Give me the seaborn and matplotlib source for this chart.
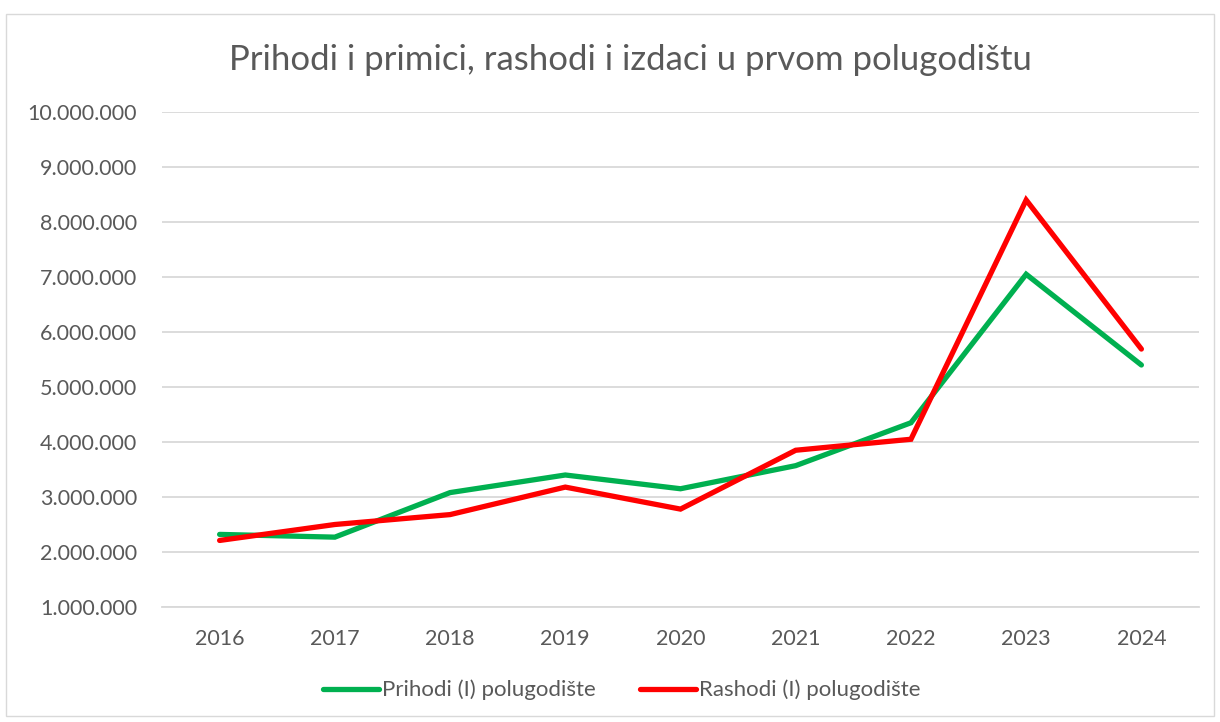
import matplotlib
matplotlib.use("Agg")
import matplotlib.pyplot as plt
import matplotlib.ticker as mticker
import seaborn as sns
import pandas as pd

years = ["2016", "2017", "2018", "2019", "2020", "2021", "2022", "2023", "2024"]
prihodi = [2320000, 2270000, 3080000, 3400000, 3150000, 3570000, 4350000, 7050000, 5400000]
rashodi = [2210000, 2500000, 2680000, 3180000, 2780000, 3850000, 4050000, 8400000, 5690000]
series_names = ["Prihodi (I) polugodište", "Rashodi (I) polugodište"]
title = "Prihodi i primici, rashodi i izdaci u prvom polugodištu"

sns.set_theme(style="white")
plt.rcParams['font.family'] = ['Lato', 'DejaVu Sans']

df = pd.DataFrame({
    "year": years * 2,
    "x": list(range(len(years))) * 2,
    "value": prihodi + rashodi,
    "series": [series_names[0]] * len(years) + [series_names[1]] * len(years),
})

fig = plt.figure(figsize=(12.2, 7.22), dpi=100)
# outer border
fig.patches.append(plt.Rectangle((0.005, 0.008), 0.99, 0.972, transform=fig.transFigure,
                                 fill=False, edgecolor="#d9d9d9", linewidth=1))
ax = fig.add_axes([162/1220, 1 - 607/722, (1199-162)/1220, (607-112)/722])

sns.lineplot(data=df, x="x", y="value", hue="series", palette=["#00b050", "#ff0000"],
             linewidth=3.8, ax=ax, legend=True, solid_capstyle="round", solid_joinstyle="miter")

ax.set_xlim(-0.5, len(years) - 0.5)
ax.set_ylim(1000000, 10000000)
ax.yaxis.set_major_locator(mticker.MultipleLocator(1000000))
ax.yaxis.set_major_formatter(mticker.FuncFormatter(lambda v, p: f"{int(v):,}".replace(",", ".")))
ax.set_xticks(range(len(years)))
ax.set_xticklabels(years)
ax.xaxis.set_minor_locator(mticker.FixedLocator([i - 0.5 for i in range(len(years) + 1)]))
ax.tick_params(axis="x", which="major", length=0, pad=16, labelsize=15.5, labelcolor="#595959")
ax.tick_params(axis="x", which="minor", length=6, width=1, color="#d9d9d9", direction="out")
ax.tick_params(axis="y", length=0, pad=18, labelsize=15.5, labelcolor="#595959")
ax.grid(axis="y", color="#d9d9d9", linewidth=1.3)
ax.set_axisbelow(True)
for s in ["top", "right", "left"]:
    ax.spines[s].set_visible(False)
ax.spines["bottom"].set_color("#d9d9d9")
ax.spines["bottom"].set_linewidth(1.3)
ax.set_xlabel("")
ax.set_ylabel("")

fig.text(630/1220, 1 - 60/722, title, ha="center", va="center", fontsize=25, color="#595959")

handles, labels = ax.get_legend_handles_labels()
ax.legend(handles, labels, loc="center", bbox_to_anchor=(622/1220, 1 - 690/722),
          bbox_transform=fig.transFigure, ncol=2, frameon=False, fontsize=16,
          labelcolor="#595959", handlelength=2.5, handletextpad=0.15, columnspacing=2.0)

fig.savefig("out.png", dpi=100, facecolor="white")
